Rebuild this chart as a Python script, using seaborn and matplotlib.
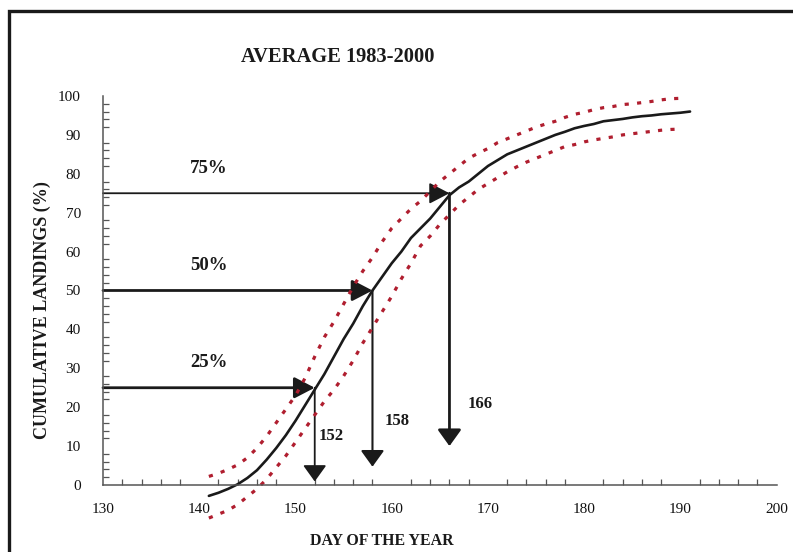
import numpy as np
import pandas as pd
import matplotlib
matplotlib.use("Agg")
import matplotlib.pyplot as plt
import seaborn as sns
from matplotlib.patches import Rectangle, FancyArrowPatch
from matplotlib.ticker import MultipleLocator

# ---------------- data ----------------
days_mean = list(range(141, 192))
mean_vals = [-2.8, -2.0, -1.0, 0.2, 1.8, 3.8, 6.5, 9.5, 12.8, 16.5,
             20.5, 24.5, 28.5, 33.0, 37.5, 41.5, 46.0, 50.0, 53.5, 57.0,
             60.0, 63.5, 66.0, 68.5, 71.5, 74.5, 76.5, 78.0, 80.0, 82.0,
             83.5, 85.0, 86.0, 87.0, 88.0, 89.0, 90.0, 90.8, 91.7, 92.3,
             92.8, 93.5, 93.8, 94.1, 94.5, 94.8, 95.0, 95.3, 95.5, 95.7, 96.0]

days_band = list(range(141, 191))
upper_vals = [2.2, 3.0, 4.0, 5.2, 7.0, 9.5, 12.5, 16.0, 19.5, 23.0,
              27.5, 33.0, 38.0, 42.0, 46.5, 51.0, 55.0, 58.5, 62.5, 66.0,
              68.5, 71.0, 73.0, 75.5, 78.0, 80.0, 82.0, 84.0, 85.3, 86.5,
              88.0, 89.0, 90.0, 91.0, 92.0, 92.8, 93.5, 94.5, 95.3, 95.8,
              96.5, 97.0, 97.3, 97.8, 98.0, 98.3, 98.6, 99.0, 99.3, 99.4]
lower_vals = [-8.5, -7.5, -6.5, -5.0, -3.0, -1.0, 1.5, 4.5, 7.5, 11.0,
              14.5, 18.0, 21.5, 24.5, 28.0, 32.0, 36.5, 40.5, 44.5, 48.5,
              53.0, 57.0, 61.5, 64.0, 67.0, 69.5, 72.0, 74.0, 76.0, 77.5,
              79.0, 80.5, 81.8, 83.0, 84.0, 85.0, 86.0, 87.0, 87.5, 88.2,
              88.7, 89.1, 89.5, 90.0, 90.3, 90.6, 90.9, 91.2, 91.4, 91.5]

pct_levels = [25, 50, 75]
pct_labels = ["25%", "50%", "75%"]
pct_days = [152, 158, 166]
day_labels = ["152", "158", "166"]
arrow_tips = [0.9, 4.7, 10.0]

x_ticks = [130, 140, 150, 160, 170, 180, 190, 200]
y_ticks = [0, 10, 20, 30, 40, 50, 60, 70, 80, 90, 100]

# ---------------- style ----------------
sns.set_style("white")
plt.rcParams['font.family'] = ['Liberation Serif', 'DejaVu Serif']

fig = plt.figure(figsize=(7.93, 5.52), dpi=100)
ax = fig.add_axes([0.1299, 0.1214, 0.9794 - 0.1299, 0.8261 - 0.1214])

red = '#b01e2f'
df_mean = pd.DataFrame({'day': days_mean, 'val': mean_vals})
df_up = pd.DataFrame({'day': days_band, 'val': upper_vals})
df_lo = pd.DataFrame({'day': days_band, 'val': lower_vals})

sns.lineplot(data=df_up, x='day', y='val', ax=ax, color=red, lw=2.3,
             linestyle=(0, (1.3, 2.6)))
sns.lineplot(data=df_lo, x='day', y='val', ax=ax, color=red, lw=2.3,
             linestyle=(0, (1.3, 2.6)))
sns.lineplot(data=df_mean, x='day', y='val', ax=ax, color='#1a1a1a', lw=1.9)
for ln in ax.lines:
    ln.set_clip_on(False)

ax.set_xlim(130, 200)
ax.set_ylim(0, 100)
ax.set_xticks(x_ticks)
ax.set_yticks(y_ticks)
ax.xaxis.set_minor_locator(MultipleLocator(2))
ax.yaxis.set_minor_locator(MultipleLocator(2))
ax.set_xlabel('')
ax.set_ylabel('')

spine_c = '#555555'
for s in ['top', 'right']:
    ax.spines[s].set_visible(False)
for s in ['left', 'bottom']:
    ax.spines[s].set_color(spine_c)
    ax.spines[s].set_linewidth(1.1)
ax.tick_params(which='major', direction='inout', length=8, width=1.0,
               color=spine_c, labelsize=11, labelcolor='#111111')
ax.tick_params(axis='y', which='major', pad=12)
ax.tick_params(axis='x', which='major', pad=9)
ax.tick_params(which='minor', direction='in', length=4, width=0.9,
               color=spine_c, left=True, bottom=True)

# horizontal arrows
h_lw = [2.0, 2.0, 1.3]
for lvl, d, lbl, lw in zip(pct_levels, pct_days, pct_labels, h_lw):
    arr = FancyArrowPatch((130, lvl), (d, lvl),
                          arrowstyle='-|>,head_length=1.25,head_width=0.65',
                          mutation_scale=10, shrinkA=0, shrinkB=0,
                          color='#1a1a1a', lw=lw, clip_on=False)
    ax.add_patch(arr)
    ax.text(141.0, lvl + 6.4, lbl, ha='center', va='center',
            fontsize=13.5, fontweight='bold', color='#1a1a1a')

# vertical arrows
v_lw = [1.3, 1.5, 2.0]
lbl_pos = [(153.7, 12.6), (160.6, 16.5), (169.2, 20.8)]
for lvl, d, tip, lbl, lw, pos in zip(pct_levels, pct_days, arrow_tips,
                                     day_labels, v_lw, lbl_pos):
    arr = FancyArrowPatch((d, lvl), (d, tip),
                          arrowstyle='-|>,head_length=1.0,head_width=0.72',
                          mutation_scale=10, shrinkA=0, shrinkB=0,
                          color='#1a1a1a', lw=lw, clip_on=False)
    ax.add_patch(arr)
    ax.text(pos[0], pos[1], lbl, ha='center', va='center',
            fontsize=12, fontweight='bold', color='#1a1a1a')

# titles and labels
fig.text(338 / 793, 1 - 57 / 552, 'AVERAGE 1983-2000', ha='center',
         va='center', fontsize=14.8, fontweight='bold', color='#1a1a1a')
fig.text(382 / 793, 1 - 541 / 552, 'DAY OF THE YEAR', ha='center',
         va='center', fontsize=11.4, fontweight='bold', color='#1a1a1a')
fig.text(42 / 793, 1 - 310 / 552, 'CUMULATIVE LANDINGS (%)', ha='center',
         va='center', rotation=90, fontsize=13, fontweight='bold',
         color='#1a1a1a')

# outer frame (clipped at right/bottom)
frame = Rectangle((8.5 / 793, -0.1), 1.2, 1 - 11 / 552 + 0.1,
                  transform=fig.transFigure, fill=False, lw=2.4,
                  edgecolor='#1a1a1a')
fig.patches.append(frame)

fig.savefig('out.png', dpi=100)
